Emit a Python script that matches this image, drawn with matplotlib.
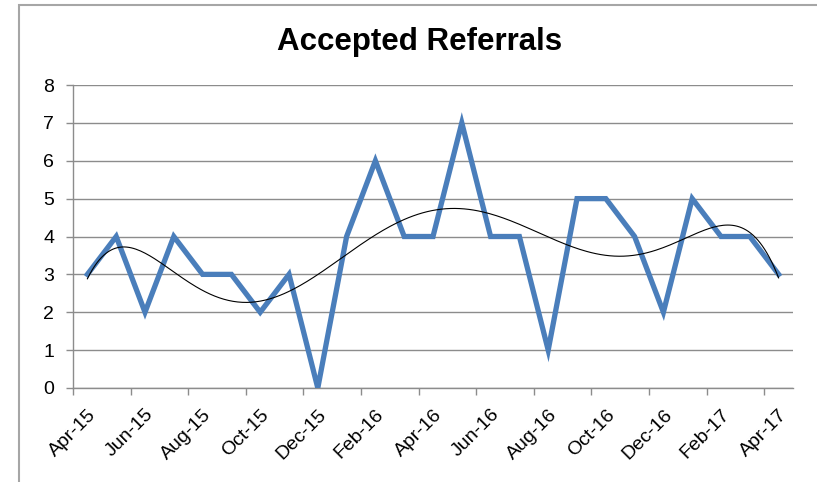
import matplotlib
matplotlib.use("Agg")
import matplotlib.pyplot as plt
import matplotlib.transforms as mtransforms
import numpy as np
from matplotlib.patches import Rectangle

# months of the series (Excel-style labels)
months = ["Apr-15", "May-15", "Jun-15", "Jul-15", "Aug-15", "Sep-15", "Oct-15",
          "Nov-15", "Dec-15", "Jan-16", "Feb-16", "Mar-16", "Apr-16", "May-16",
          "Jun-16", "Jul-16", "Aug-16", "Sep-16", "Oct-16", "Nov-16", "Dec-16",
          "Jan-17", "Feb-17", "Mar-17", "Apr-17"]
referrals = [3, 4, 2, 4, 3, 3, 2, 3, 0, 4, 6, 4, 4, 7, 4, 4, 1, 5, 5, 4, 2, 5, 4, 4, 3]
y_ticks = [0, 1, 2, 3, 4, 5, 6, 7, 8]

plt.rcParams['font.family'] = ['Liberation Sans', 'DejaVu Sans']

W, H = 817, 482
fig = plt.figure(figsize=(W / 100, H / 100), dpi=100)
ax = fig.add_axes([73 / W, 1 - 388 / H, (793 - 73) / W, (388 - 85) / H])

x = np.arange(len(referrals))
ax.plot(x, referrals, color="#4a7ebb", lw=3.8, solid_joinstyle="miter", zorder=3)

# polynomial trendline (order 6) like Excel
coef = np.polyfit(x, referrals, 6)
xs = np.linspace(0, len(referrals) - 1, 300)
ax.plot(xs, np.polyval(coef, xs), color="black", lw=0.8, zorder=4)

ax.set_xlim(-0.5, len(referrals) - 0.5)
ax.set_ylim(0, 8)
ax.set_yticks(y_ticks)
ax.yaxis.grid(True, color="#8c8c8c", lw=1)
ax.set_axisbelow(True)

# tick marks on category boundaries, labels on every 2nd category
ax.set_xticks(np.arange(-0.5, len(referrals) - 1, 2))
ax.set_xticklabels([])
ax.set_xticks(x[::2], minor=True)
ax.set_xticklabels(months[::2], minor=True, rotation=45, ha="right", va="top",
                   rotation_mode="anchor", fontsize=14)
shift = mtransforms.ScaledTranslation(3 / 100, 0, fig.dpi_scale_trans)
for lab in ax.get_xticklabels(minor=True):
    lab.set_transform(lab.get_transform() + shift)
ax.tick_params(axis="x", which="minor", length=0, pad=13)
ax.tick_params(axis="x", which="major", length=5, color="#8c8c8c", width=1)
ax.tick_params(axis="y", length=5, color="#8c8c8c", width=1, labelsize=14, pad=8.5)

for s in ["top", "right"]:
    ax.spines[s].set_visible(False)
for s in ["left", "bottom"]:
    ax.spines[s].set_color("#8c8c8c")
    ax.spines[s].set_linewidth(1)

fig.text(420 / W, 1 - 50 / H, "Accepted Referrals", ha="center", va="baseline",
         fontsize=22.5, fontweight="bold")

# chart area border (cut off at right and bottom in the screenshot)
fig.patches.append(Rectangle((19 / W, -0.1), 2, 1 - 5 / H + 0.1, transform=fig.transFigure,
                             fill=False, edgecolor="#a6a6a6", lw=1.5))

fig.savefig("out.png", dpi=100)
